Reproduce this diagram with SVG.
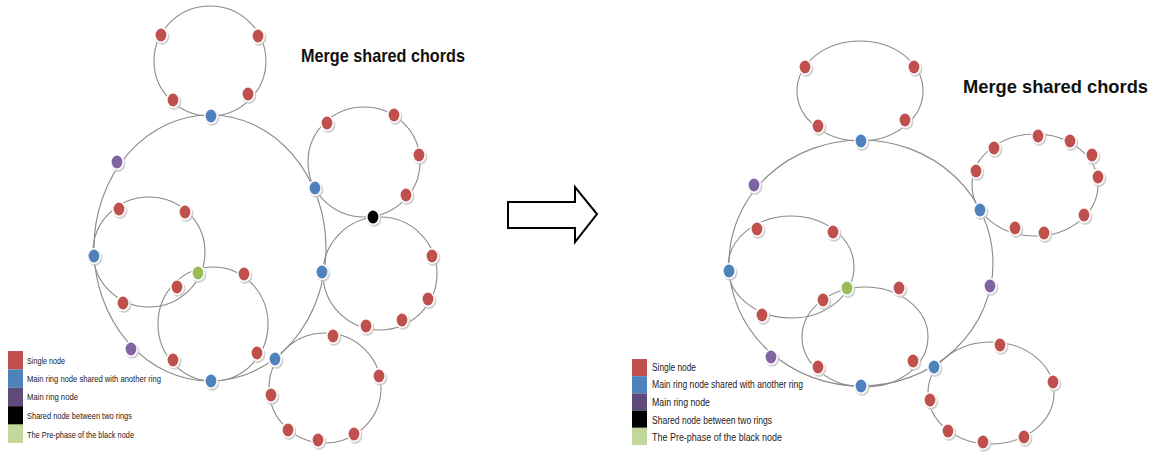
<svg xmlns="http://www.w3.org/2000/svg" xmlns:xlink="http://www.w3.org/1999/xlink" width="1159" height="452" viewBox="0 0 1159 452">
<style>
.ring{fill:none;stroke:#8a8a8a;stroke-width:1.1}
.title{font-family:"Liberation Sans",Arial,sans-serif;font-weight:bold;fill:#111}
.lg{font-family:"Liberation Sans",Arial,sans-serif;fill:#222}
.red{fill:#C0504D}.blue{fill:#4F81BD}.pur{fill:#8064A2}.blk{fill:#000}.grn{fill:#9BBB59}
</style>
<defs>
<g id="dot">
<ellipse cx="1.2" cy="1.8" rx="7.2" ry="8.2" fill="#c8c8c8" opacity="0.8"/>
<ellipse cx="0" cy="0" rx="7" ry="8" fill="#fff"/>
<ellipse cx="0" cy="0" rx="5.4" ry="6.4"/>
</g>
</defs>
<rect width="1159" height="452" fill="#fff"/>

<g id="connectors">
<ellipse class="ring" cx="210" cy="61" rx="56" ry="55"/>
<ellipse class="ring" cx="210" cy="248" rx="116" ry="133"/>
<ellipse class="ring" cx="364" cy="162" rx="56" ry="55"/>
<ellipse class="ring" cx="380" cy="273.5" rx="57" ry="56.5"/>
<ellipse class="ring" cx="149" cy="252" rx="56" ry="55"/>
<ellipse class="ring" cx="213" cy="324" rx="55" ry="57"/>
<ellipse class="ring" cx="325" cy="388" rx="56" ry="55"/>
<ellipse class="ring" cx="860" cy="91" rx="63" ry="50"/>
<ellipse class="ring" cx="861" cy="263" rx="132" ry="123"/>
<ellipse class="ring" cx="791" cy="267" rx="63" ry="51"/>
<ellipse class="ring" cx="865" cy="337" rx="63" ry="50"/>
<ellipse class="ring" cx="1035" cy="185" rx="63" ry="51"/>
<ellipse class="ring" cx="991" cy="393" rx="63" ry="51"/>
<polygon points="508,202 575,202 575,187 597,214 575,242 575,228 508,228" fill="#fff" stroke="#000" stroke-width="2" stroke-linejoin="miter"/>
</g>

<g id="titles">
<text class="title" x="301" y="62" font-size="19" textLength="164" lengthAdjust="spacingAndGlyphs">Merge shared chords</text>
<text class="title" x="963" y="93" font-size="19" textLength="185" lengthAdjust="spacingAndGlyphs">Merge shared chords</text>
</g>

<g id="L-top-1"><use xlink:href="#dot" x="161" y="35" class="red"/></g>
<g id="L-top-2"><use xlink:href="#dot" x="258" y="36" class="red"/></g>
<g id="L-top-3"><use xlink:href="#dot" x="173" y="100" class="red"/></g>
<g id="L-top-4"><use xlink:href="#dot" x="248" y="94" class="red"/></g>
<g id="L-top-blue"><use xlink:href="#dot" x="211" y="116" class="blue"/></g>
<g id="L-main-p1"><use xlink:href="#dot" x="117" y="162" class="pur"/></g>
<g id="L-main-b1"><use xlink:href="#dot" x="94" y="256" class="blue"/></g>
<g id="L-main-p2"><use xlink:href="#dot" x="131" y="349" class="pur"/></g>
<g id="L-main-b2"><use xlink:href="#dot" x="211" y="381" class="blue"/></g>
<g id="L-main-b3"><use xlink:href="#dot" x="275" y="359" class="blue"/></g>
<g id="L-main-b4"><use xlink:href="#dot" x="322" y="272" class="blue"/></g>
<g id="L-main-b5"><use xlink:href="#dot" x="315" y="188" class="blue"/></g>
<g id="L-ur-1"><use xlink:href="#dot" x="327" y="123" class="red"/></g>
<g id="L-ur-2"><use xlink:href="#dot" x="394" y="115" class="red"/></g>
<g id="L-ur-3"><use xlink:href="#dot" x="419" y="155" class="red"/></g>
<g id="L-ur-4"><use xlink:href="#dot" x="406" y="195" class="red"/></g>
<g id="L-black"><use xlink:href="#dot" x="373" y="217" class="blk"/></g>
<g id="L-mr-1"><use xlink:href="#dot" x="432" y="256" class="red"/></g>
<g id="L-mr-2"><use xlink:href="#dot" x="428" y="299" class="red"/></g>
<g id="L-mr-3"><use xlink:href="#dot" x="402" y="320" class="red"/></g>
<g id="L-mr-4"><use xlink:href="#dot" x="366" y="326" class="red"/></g>
<g id="L-il-1"><use xlink:href="#dot" x="119" y="209" class="red"/></g>
<g id="L-il-2"><use xlink:href="#dot" x="185" y="212" class="red"/></g>
<g id="L-il-3"><use xlink:href="#dot" x="123" y="303" class="red"/></g>
<g id="L-green"><use xlink:href="#dot" x="198" y="273" class="grn"/></g>
<g id="L-lo-1"><use xlink:href="#dot" x="177" y="287" class="red"/></g>
<g id="L-lo-2"><use xlink:href="#dot" x="244" y="274" class="red"/></g>
<g id="L-lo-3"><use xlink:href="#dot" x="257" y="353" class="red"/></g>
<g id="L-lo-4"><use xlink:href="#dot" x="173" y="360" class="red"/></g>
<g id="L-br-1"><use xlink:href="#dot" x="333" y="336" class="red"/></g>
<g id="L-br-2"><use xlink:href="#dot" x="379" y="376" class="red"/></g>
<g id="L-br-3"><use xlink:href="#dot" x="271" y="395" class="red"/></g>
<g id="L-br-4"><use xlink:href="#dot" x="288" y="430" class="red"/></g>
<g id="L-br-5"><use xlink:href="#dot" x="318" y="440" class="red"/></g>
<g id="L-br-6"><use xlink:href="#dot" x="354" y="434" class="red"/></g>

<g id="R-top-1"><use xlink:href="#dot" x="805" y="67" class="red"/></g>
<g id="R-top-2"><use xlink:href="#dot" x="914" y="67" class="red"/></g>
<g id="R-top-3"><use xlink:href="#dot" x="818" y="126" class="red"/></g>
<g id="R-top-4"><use xlink:href="#dot" x="905" y="120" class="red"/></g>
<g id="R-top-blue"><use xlink:href="#dot" x="861" y="141" class="blue"/></g>
<g id="R-main-p1"><use xlink:href="#dot" x="754" y="185" class="pur"/></g>
<g id="R-main-b1"><use xlink:href="#dot" x="729" y="271" class="blue"/></g>
<g id="R-main-p2"><use xlink:href="#dot" x="771" y="357" class="pur"/></g>
<g id="R-main-b2"><use xlink:href="#dot" x="861" y="386" class="blue"/></g>
<g id="R-main-b3"><use xlink:href="#dot" x="934" y="367" class="blue"/></g>
<g id="R-main-p3"><use xlink:href="#dot" x="990" y="286" class="pur"/></g>
<g id="R-main-b4"><use xlink:href="#dot" x="980" y="210" class="blue"/></g>
<g id="R-il-1"><use xlink:href="#dot" x="757" y="229" class="red"/></g>
<g id="R-il-2"><use xlink:href="#dot" x="833" y="232" class="red"/></g>
<g id="R-il-3"><use xlink:href="#dot" x="762" y="315" class="red"/></g>
<g id="R-green"><use xlink:href="#dot" x="847" y="288" class="grn"/></g>
<g id="R-lo-1"><use xlink:href="#dot" x="823" y="300" class="red"/></g>
<g id="R-lo-2"><use xlink:href="#dot" x="899" y="288" class="red"/></g>
<g id="R-lo-3"><use xlink:href="#dot" x="913" y="361" class="red"/></g>
<g id="R-lo-4"><use xlink:href="#dot" x="818" y="367" class="red"/></g>
<g id="R-ur-1"><use xlink:href="#dot" x="976" y="171" class="red"/></g>
<g id="R-ur-2"><use xlink:href="#dot" x="994" y="148" class="red"/></g>
<g id="R-ur-3"><use xlink:href="#dot" x="1038" y="136" class="red"/></g>
<g id="R-ur-4"><use xlink:href="#dot" x="1070" y="141" class="red"/></g>
<g id="R-ur-5"><use xlink:href="#dot" x="1092" y="155" class="red"/></g>
<g id="R-ur-6"><use xlink:href="#dot" x="1098" y="177" class="red"/></g>
<g id="R-ur-7"><use xlink:href="#dot" x="1084" y="215" class="red"/></g>
<g id="R-ur-8"><use xlink:href="#dot" x="1044" y="233" class="red"/></g>
<g id="R-ur-9"><use xlink:href="#dot" x="1015" y="228" class="red"/></g>
<g id="R-br-1"><use xlink:href="#dot" x="1000" y="345" class="red"/></g>
<g id="R-br-2"><use xlink:href="#dot" x="1053" y="382" class="red"/></g>
<g id="R-br-3"><use xlink:href="#dot" x="930" y="400" class="red"/></g>
<g id="R-br-4"><use xlink:href="#dot" x="948" y="431" class="red"/></g>
<g id="R-br-5"><use xlink:href="#dot" x="983" y="442" class="red"/></g>
<g id="R-br-6"><use xlink:href="#dot" x="1024" y="437" class="red"/></g>

<g id="legend-left">
<rect x="8" y="351" width="15" height="18.4" fill="#C0504D"/>
<rect x="8" y="369.4" width="15" height="18.4" fill="#4F81BD"/>
<rect x="8" y="387.8" width="15" height="18.4" fill="#604A7B"/>
<rect x="8" y="406.2" width="15" height="18.4" fill="#000"/>
<rect x="8" y="424.6" width="15" height="18.4" fill="#C3D69B"/>
<text class="lg" x="27" y="364" font-size="9" textLength="38" lengthAdjust="spacingAndGlyphs">Single node</text>
<text class="lg" x="27" y="382" font-size="9" textLength="134" lengthAdjust="spacingAndGlyphs">Main ring node shared with another ring</text>
<text class="lg" x="27" y="400" font-size="9" textLength="51" lengthAdjust="spacingAndGlyphs">Main ring node</text>
<text class="lg" x="27" y="419" font-size="9" textLength="105" lengthAdjust="spacingAndGlyphs">Shared node between two rings</text>
<text class="lg" x="27" y="438" font-size="9" textLength="107" lengthAdjust="spacingAndGlyphs">The Pre-phase of the black node</text>
</g>
<g id="legend-right">
<rect x="632" y="359" width="15" height="17.2" fill="#C0504D"/>
<rect x="632" y="376.2" width="15" height="17.2" fill="#4F81BD"/>
<rect x="632" y="393.4" width="15" height="17.2" fill="#604A7B"/>
<rect x="632" y="410.6" width="15" height="17.2" fill="#000"/>
<rect x="632" y="427.8" width="15" height="17.2" fill="#C3D69B"/>
<text class="lg" x="652" y="370.5" font-size="10" textLength="44" lengthAdjust="spacingAndGlyphs">Single node</text>
<text class="lg" x="652" y="387.5" font-size="10" textLength="151" lengthAdjust="spacingAndGlyphs">Main ring node shared with another ring</text>
<text class="lg" x="652" y="405.5" font-size="10" textLength="58" lengthAdjust="spacingAndGlyphs">Main ring node</text>
<text class="lg" x="652" y="423.5" font-size="10" textLength="120" lengthAdjust="spacingAndGlyphs">Shared node between two rings</text>
<text class="lg" x="652" y="440.5" font-size="10" textLength="130" lengthAdjust="spacingAndGlyphs">The Pre-phase of the black node</text>
</g>
</svg>
